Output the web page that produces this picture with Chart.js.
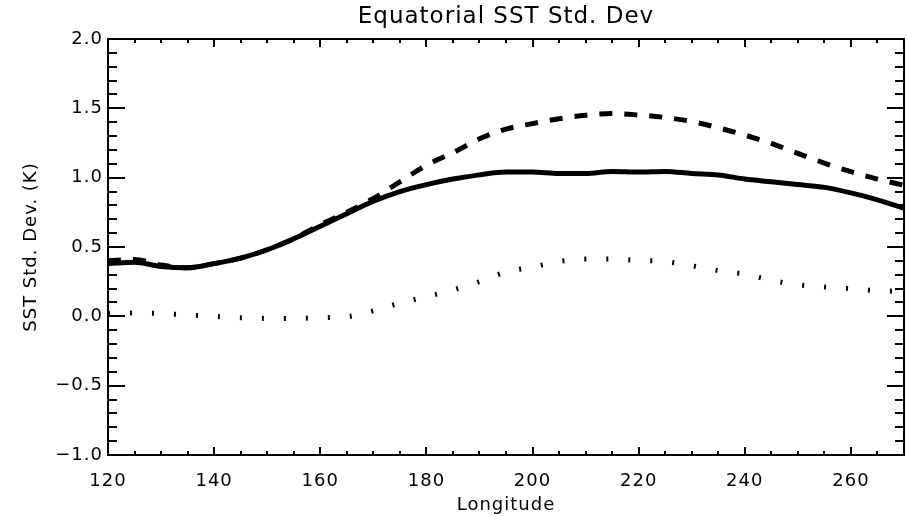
<!DOCTYPE html>
<html>
<head>
<meta charset="utf-8">
<script src="https://cdn.jsdelivr.net/npm/chart.js@4.4.0/dist/chart.umd.min.js"></script>
<style>
html,body{margin:0;padding:0;background:#fff;}
canvas{display:block;}
</style>
</head>
<body>
<canvas id="c" width="908" height="516"></canvas>
<script>
// ---- data ----
const longitude = [120,125,130,135,140,145,150,155,160,165,170,175,180,185,190,195,200,205,210,215,220,225,230,235,240,245,250,255,260,265,270];
const sstSolid  = [0.38,0.39,0.36,0.35,0.38,0.42,0.48,0.56,0.65,0.74,0.83,0.90,0.95,0.99,1.02,1.04,1.04,1.03,1.03,1.045,1.04,1.045,1.03,1.02,0.99,0.97,0.95,0.93,0.89,0.84,0.78];
const sstDashed = [0.40,0.41,0.37,0.35,0.38,0.42,0.48,0.56,0.66,0.75,0.85,0.97,1.09,1.18,1.28,1.35,1.39,1.425,1.45,1.463,1.452,1.434,1.405,1.36,1.307,1.247,1.175,1.105,1.043,0.99,0.945];
const sstDotted = [0.02,0.025,0.02,0.01,0.0,-0.01,-0.015,-0.015,-0.01,-0.003,0.04,0.095,0.142,0.19,0.25,0.32,0.355,0.395,0.413,0.413,0.403,0.395,0.365,0.33,0.305,0.26,0.228,0.212,0.2,0.185,0.18];
const xTickValues = [120,140,160,180,200,220,240,260];
const yTickValues = [-1.0,-0.5,0.0,0.5,1.0,1.5,2.0];
const xMinorStep = 5;
const yMinorStep = 0.1;

const toPoints = ys => longitude.map((x, i) => ({x: x, y: ys[i]}));

const LS = '1px';
const spacingPlugin = {
  id: 'spacing',
  beforeInit(c) { c.ctx.letterSpacing = LS; },
  beforeUpdate(c) { c.ctx.letterSpacing = LS; },
  beforeDraw(c) { c.ctx.letterSpacing = LS; }
};

const framePlugin = {
  id: 'frame',
  afterDraw(c) {
    const ctx = c.ctx, a = c.chartArea, x = c.scales.x, y = c.scales.y;
    ctx.save();
    ctx.strokeStyle = '#000';
    ctx.lineWidth = 2;
    ctx.lineCap = 'butt';
    ctx.strokeRect(a.left, a.top, a.right - a.left, a.bottom - a.top);
    ctx.beginPath();
    for (let k = 0; ; k++) {
      const v = x.min + k * xMinorStep;
      if (v > x.max + 1e-9) break;
      const px = Math.round(x.getPixelForValue(v));
      const major = xTickValues.some(t => Math.abs(t - v) < 1e-6);
      const len = major ? 8 : 4;
      ctx.moveTo(px, a.bottom); ctx.lineTo(px, a.bottom - len);
      ctx.moveTo(px, a.top); ctx.lineTo(px, a.top + len);
    }
    for (let k = 0; ; k++) {
      const v = y.min + k * yMinorStep;
      if (v > y.max + 1e-9) break;
      const py = Math.round(y.getPixelForValue(v));
      const major = yTickValues.some(t => Math.abs(t - v) < 1e-6);
      const len = major ? 17 : 9;
      ctx.moveTo(a.left, py); ctx.lineTo(a.left + len, py);
      ctx.moveTo(a.right, py); ctx.lineTo(a.right - len, py);
    }
    ctx.stroke();
    ctx.restore();
  }
};

const FONT = 'DejaVu Sans';
Chart.defaults.color = '#000';
Chart.defaults.font.family = FONT;

new Chart(document.getElementById('c'), {
  type: 'line',
  data: {
    datasets: [
      {
        label: 'solid',
        data: toPoints(sstSolid),
        borderColor: '#000',
        borderWidth: 5,
        pointRadius: 0,
        cubicInterpolationMode: 'monotone',
        fill: false
      },
      {
        label: 'dashed',
        data: toPoints(sstDashed),
        borderColor: '#000',
        borderWidth: 5,
        borderDash: [13, 12],
        pointRadius: 0,
        cubicInterpolationMode: 'monotone',
        fill: false
      },
      {
        label: 'dotted',
        data: toPoints(sstDotted),
        borderColor: '#000',
        borderWidth: 5,
        borderDash: [2, 20],
        pointRadius: 0,
        cubicInterpolationMode: 'monotone',
        fill: false
      }
    ]
  },
  options: {
    responsive: false,
    animation: false,
    devicePixelRatio: 1,
    layout: { padding: { left: 0, right: 4, top: 0, bottom: 0 } },
    plugins: {
      legend: { display: false },
      tooltip: { enabled: false },
      title: {
        display: true,
        text: 'Equatorial SST Std. Dev',
        fullSize: false,
        color: '#000',
        font: { family: FONT, size: 23, weight: 'normal' },
        padding: { top: 3, bottom: 8.4 }
      }
    },
    scales: {
      x: {
        type: 'linear',
        min: 120,
        max: 270,
        afterBuildTicks: s => { s.ticks = xTickValues.map(v => ({value: v})); },
        afterFit: s => { s.height = 61; },
        grid: { display: false, drawTicks: false },
        border: { display: false },
        ticks: {
          font: { family: FONT, size: 18 },
          color: '#000',
          padding: 16,
          maxRotation: 0,
          autoSkip: false,
          callback: v => String(v)
        },
        title: {
          display: true,
          text: 'Longitude',
          color: '#000',
          font: { family: FONT, size: 18 },
          padding: { top: 0, bottom: 0 }
        }
      },
      y: {
        type: 'linear',
        min: -1,
        max: 2,
        afterBuildTicks: s => { s.ticks = yTickValues.map(v => ({value: v})); },
        afterFit: s => { s.width = 108; },
        grid: { display: false, drawTicks: false },
        border: { display: false },
        ticks: {
          font: { family: FONT, size: 18 },
          color: '#000',
          padding: 5,
          autoSkip: false,
          callback: v => (v < 0 ? '\u2212' : '') + Math.abs(v).toFixed(1)
        },
        title: {
          display: true,
          text: 'SST Std. Dev. (K)',
          color: '#000',
          font: { family: FONT, size: 18 },
          padding: { top: 21, bottom: 0 }
        }
      }
    }
  },
  plugins: [spacingPlugin, framePlugin]
});
</script>
</body>
</html>
